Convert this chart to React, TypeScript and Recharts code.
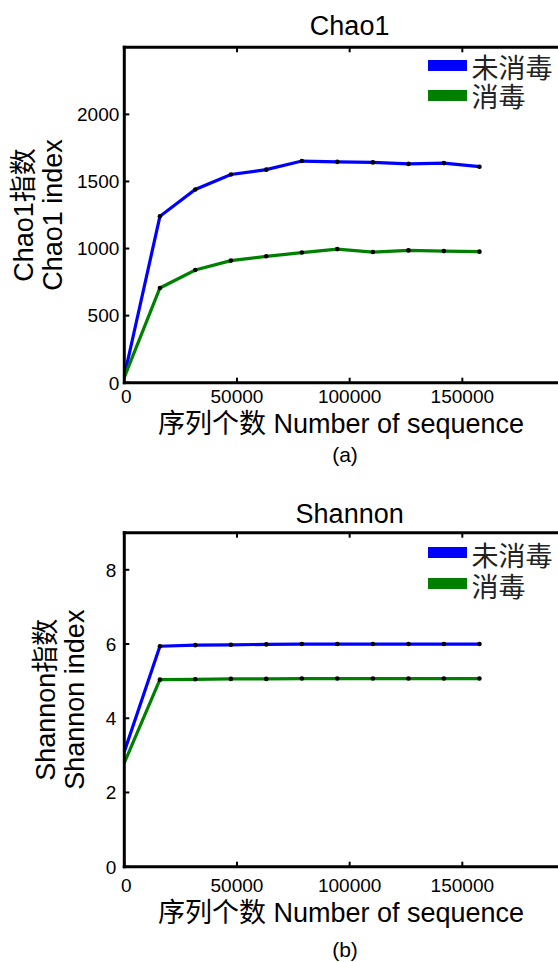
import React from 'react';
import { LineChart, Line, XAxis, YAxis, Legend } from 'recharts';

// ---- data ----
const sequenceCounts = [0, 15800, 31500, 47300, 63000, 78800, 94500, 110300, 126100, 141800, 157600];
const chao1Untreated = [50, 1240, 1440, 1552, 1588, 1652, 1646, 1642, 1631, 1637, 1610];
const chao1Treated = [40, 706, 840, 910, 942, 970, 996, 974, 986, 981, 977];
const shannonUntreated = [3.1, 5.94, 5.97, 5.98, 5.99, 6.0, 6.0, 6.0, 6.0, 6.0, 6.0];
const shannonTreated = [2.8, 5.04, 5.05, 5.06, 5.06, 5.07, 5.07, 5.07, 5.07, 5.07, 5.07];
const seriesNames = ['未消毒', '消毒'];
const seriesColors = ['#0000ff', '#008000'];
const xTicks = [0, 50000, 100000, 150000];
const xTopTicks = [50000, 100000, 150000];
const xDomain = [0, 200000];
const chao1Ticks = [0, 500, 1000, 1500, 2000];
const chao1Domain = [0, 2500];
const shannonTicks = [0, 2, 4, 6, 8];
const shannonDomain = [0, 9];
const xAxisTitle = '序列个数 Number of sequence';

const FONT = '"Liberation Sans", Arial, "Noto Sans CJK SC", sans-serif';
const CHART_W = 600;
const CHART_H = 481;
const PLOT_LEFT = 124.3;
const PLOT_RIGHT = 575;
const AX = 2; // axis band size reserved by each axis

type PanelProps = {
  title: string;
  yLines: string[];
  series: number[][];
  yDomain: number[];
  yTicks: number[];
  caption: string;
  plotTop: number;
  plotBottom: number;
  titleBase: number;
  tickBase: number;
  labelBase: number;
  captionBase: number;
  yLineX: number[];
  yTickGap: number;
  legendRows: number[];
  legendBase: number[];
};

function Panel(p: PanelProps) {
  const data = sequenceCounts.map((x, i) => ({ x, s0: p.series[0][i], s1: p.series[1][i] }));
  const midY = (p.plotTop + p.plotBottom) / 2;

  const renderDot = (props: any) => {
    const { cx, cy, index } = props;
    if (index === 0 || cx == null || cy == null) return <g key={`n-${index}`} />;
    return <circle key={`d-${index}`} cx={cx} cy={cy} r={2.3} fill="#000" stroke="none" />;
  };

  const bottomTick = (props: any) => {
    const { x, payload } = props;
    return (
      <g>
        <line x1={x} y1={p.plotBottom} x2={x} y2={p.plotBottom - 5} stroke="#000" strokeWidth={2} />
        <text x={x + (payload.value === 0 ? 2 : 0)} y={p.tickBase} textAnchor="middle" fontSize={19} fontFamily={FONT} fill="#000">
          {payload.value}
        </text>
      </g>
    );
  };

  const topTick = (props: any) => {
    const { x } = props;
    return <line x1={x} y1={p.plotTop} x2={x} y2={p.plotTop + 5} stroke="#000" strokeWidth={2} />;
  };

  const leftTick = (props: any) => {
    const { y, payload } = props;
    return (
      <g>
        <line x1={PLOT_LEFT} y1={y} x2={PLOT_LEFT + 5} y2={y} stroke="#000" strokeWidth={2} />
        <text x={PLOT_LEFT - p.yTickGap} y={y} dy="0.36em" textAnchor="end" fontSize={19} fontFamily={FONT} fill="#000">
          {payload.value}
        </text>
      </g>
    );
  };

  const titleContent = () => (
    <text x={(PLOT_LEFT + PLOT_RIGHT) / 2} y={p.titleBase} textAnchor="middle" fontSize={27} fontFamily={FONT} fill="#000">
      {p.title}
    </text>
  );

  const bottomContent = () => (
    <g>
      <text x={341} y={p.labelBase} textAnchor="middle" fontSize={27} fontFamily={FONT} fill="#000">
        {xAxisTitle}
      </text>
      <text x={345} y={p.captionBase} textAnchor="middle" fontSize={21} fontFamily={FONT} fill="#000">
        {p.caption}
      </text>
    </g>
  );

  const leftContent = () => (
    <g>
      {p.yLines.map((t, i) => (
        <text
          key={i}
          x={p.yLineX[i]}
          y={midY}
          transform={`rotate(-90, ${p.yLineX[i]}, ${midY})`}
          textAnchor="middle"
          fontSize={27}
          fontFamily={FONT}
          fill="#000"
        >
          {t}
        </text>
      ))}
    </g>
  );

  const legendContent = () => (
    <svg width={140} height={70} style={{ display: 'block', overflow: 'visible' }}>
      {seriesNames.map((name, i) => (
        <g key={name}>
          <rect x={8} y={p.legendRows[i] - 5.5} width={39} height={11} fill={seriesColors[i]} />
          <text x={51.5} y={p.legendBase[i]} fontSize={27} fontFamily={FONT} fill="#222">
            {name}
          </text>
        </g>
      ))}
    </svg>
  );

  const axisLine = { stroke: '#000', strokeWidth: 3, strokeLinecap: 'square' as const };

  return (
    <LineChart
      width={CHART_W}
      height={CHART_H}
      data={data}
      margin={{
        top: p.plotTop - AX,
        left: PLOT_LEFT - AX,
        right: CHART_W - PLOT_RIGHT,
        bottom: CHART_H - p.plotBottom - AX,
      }}
    >
      <XAxis
        dataKey="x"
        type="number"
        domain={xDomain}
        ticks={xTicks}
        interval={0}
        height={AX}
        tickSize={0}
        tickMargin={0}
        tickLine={false}
        tick={bottomTick}
        axisLine={axisLine}
        label={{ content: bottomContent }}
      />
      <XAxis
        xAxisId="top"
        orientation="top"
        dataKey="x"
        type="number"
        domain={xDomain}
        ticks={xTopTicks}
        interval={0}
        height={AX}
        tickSize={0}
        tickMargin={0}
        tickLine={false}
        tick={topTick}
        axisLine={axisLine}
        label={{ content: titleContent }}
      />
      <YAxis
        type="number"
        domain={p.yDomain}
        ticks={p.yTicks}
        interval={0}
        width={AX}
        tickSize={0}
        tickMargin={0}
        tickLine={false}
        tick={leftTick}
        axisLine={axisLine}
        label={{ content: leftContent }}
      />
      <Legend
        layout="vertical"
        align="center"
        verticalAlign="middle"
        content={legendContent}
        wrapperStyle={{ left: 420, top: 0, width: 140 }}
      />
      <Line
        type="linear"
        dataKey="s0"
        name={seriesNames[0]}
        stroke={seriesColors[0]}
        strokeWidth={3.2}
        dot={renderDot}
        activeDot={false}
        isAnimationActive={false}
      />
      <Line
        type="linear"
        dataKey="s1"
        name={seriesNames[1]}
        stroke={seriesColors[1]}
        strokeWidth={3.2}
        dot={renderDot}
        activeDot={false}
        isAnimationActive={false}
      />
    </LineChart>
  );
}

export default function App() {
  return (
    <div
      style={{
        position: 'absolute',
        left: 0,
        top: 0,
        width: 558,
        height: 962,
        overflow: 'hidden',
        background: '#fff',
      }}
    >
      <div style={{ position: 'absolute', left: 0, top: 0 }}>
        <Panel
          title="Chao1"
          yLines={['Chao1指数', 'Chao1 index']}
          series={[chao1Untreated, chao1Treated]}
          yDomain={chao1Domain}
          yTicks={chao1Ticks}
          caption="(a)"
          plotTop={47.3}
          plotBottom={382.7}
          titleBase={35}
          tickBase={403}
          labelBase={433}
          captionBase={462}
          yLineX={[33, 62]}
          yTickGap={5}
          legendRows={[65.5, 95.5]}
          legendBase={[78, 107]}
        />
      </div>
      <div style={{ position: 'absolute', left: 0, top: 481 }}>
        <Panel
          title="Shannon"
          yLines={['Shannon指数', 'Shannon index']}
          series={[shannonUntreated, shannonTreated]}
          yDomain={shannonDomain}
          yTicks={shannonTicks}
          caption="(b)"
          plotTop={51.7}
          plotBottom={385.7}
          titleBase={42}
          tickBase={410.7}
          labelBase={440.5}
          captionBase={476}
          yLineX={[55.5, 84]}
          yTickGap={8}
          legendRows={[71.5, 102.5]}
          legendBase={[85, 116]}
        />
      </div>
    </div>
  );
}
